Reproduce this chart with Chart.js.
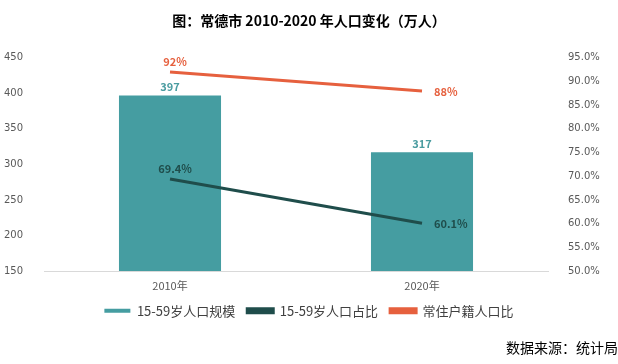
<!DOCTYPE html>
<html>
<head>
<meta charset="utf-8">
<script src="https://cdn.jsdelivr.net/npm/chart.js@4/dist/chart.umd.min.js"></script>
<style>
  html, body { margin: 0; padding: 0; background: #fff; }
  #wrap { width: 618px; height: 364px; }
</style>
</head>
<body>
<div id="wrap"><canvas id="chart" width="618" height="364"></canvas></div>
<script>
const years = ["2010年", "2020年"];
const workingPop = [397, 317];
const workingShare = [69.4, 60.1];
const registeredShare = [92, 88];

const leftTicks = [150, 200, 250, 300, 350, 400, 450];
const rightTicks = [50, 55, 60, 65, 70, 75, 80, 85, 90, 95];

const cjk = "'Noto Sans CJK SC', 'Noto Sans', sans-serif";

// value labels drawn next to each point/bar
const valueLabels = {
  id: "valueLabels",
  afterDatasetsDraw(chart) {
    const ctx = chart.ctx;
    ctx.save();
    ctx.font = "bold 11px " + cjk;
    ctx.textBaseline = "middle";
    chart.data.datasets.forEach((ds, i) => {
      const meta = chart.getDatasetMeta(i);
      meta.data.forEach((el, j) => {
        ctx.fillStyle = ds.labelColor;
        let text;
        if (ds.type === "bar") text = String(ds.data[j]);
        else if (i === 2) text = ds.data[j] + "%";
        else text = ds.data[j].toFixed(1) + "%";
        if (ds.type === "bar") {
          ctx.textAlign = "center";
          ctx.fillText(text, el.x, el.y - 9);
        } else if (j === 0) {
          ctx.textAlign = "center";
          ctx.fillText(text, el.x + 5, el.y - 10);
        } else {
          ctx.textAlign = "left";
          ctx.fillText(text, el.x + 12, el.y + 1);
        }
      });
    });
    ctx.restore();
  }
};

new Chart(document.getElementById("chart"), {
  type: "bar",
  data: {
    labels: years,
    datasets: [
      {
        type: "bar",
        label: "15-59岁人口规模",
        data: workingPop,
        backgroundColor: "#459DA1",
        labelColor: "#4A9CA0",
        yAxisID: "y",
        barPercentage: 0.81,
        categoryPercentage: 0.5,
        order: 2
      },
      {
        type: "line",
        label: "15-59岁人口占比",
        data: workingShare,
        borderColor: "#1F4D4B",
        backgroundColor: "#1F4D4B",
        labelColor: "#1F4D4B",
        borderWidth: 3,
        pointRadius: 0,
        tension: 0,
        yAxisID: "y1",
        order: 1
      },
      {
        type: "line",
        label: "常住户籍人口比",
        data: registeredShare,
        borderColor: "#E6603E",
        backgroundColor: "#E6603E",
        labelColor: "#E6603E",
        borderWidth: 3,
        pointRadius: 0,
        tension: 0,
        yAxisID: "y1",
        order: 1
      }
    ]
  },
  options: {
    responsive: false,
    animation: false,
    layout: { padding: { top: 0, left: 0, right: 0, bottom: 8 } },
    plugins: {
      title: {
        display: true,
        text: "图：常德市 2010-2020 年人口变化（万人）",
        color: "#000",
        font: { family: cjk, size: 14, weight: "bold" },
        padding: { top: 12, bottom: 29 }
      },
      legend: {
        position: "bottom",
        labels: {
          color: "#404040",
          font: { family: cjk, size: 13 },
          boxWidth: 26,
          boxHeight: 4,
          padding: 12,
          sort: (a, b) => a.datasetIndex - b.datasetIndex
        }
      },
      subtitle: {
        display: true,
        position: "bottom",
        align: "end",
        text: "数据来源：统计局",
        color: "#000",
        font: { family: cjk, size: 14 },
        padding: { top: 12, bottom: 0 }
      },
      tooltip: { enabled: false }
    },
    scales: {
      x: {
        grid: { display: false },
        border: { color: "#D9D9D9" },
        ticks: { color: "#595959", font: { family: cjk, size: 11 }, padding: 0 }
      },
      y: {
        position: "left",
        min: 150,
        max: 450,
        afterBuildTicks: axis => { axis.ticks = leftTicks.map(v => ({ value: v })); },
        afterFit: axis => { axis.width = 44; },
        grid: { display: false },
        border: { display: false },
        ticks: { color: "#595959", font: { family: "'DejaVu Sans', sans-serif", size: 10 }, padding: 13 }
      },
      y1: {
        position: "right",
        min: 50,
        max: 95,
        afterBuildTicks: axis => { axis.ticks = rightTicks.map(v => ({ value: v })); },
        afterFit: axis => { axis.width = 70; },
        grid: { display: false },
        border: { display: false },
        ticks: {
          color: "#595959",
          font: { family: "'DejaVu Sans', sans-serif", size: 10 },
          padding: 12,
          callback: v => v.toFixed(1) + "%"
        }
      }
    }
  },
  plugins: [valueLabels]
});
</script>
</body>
</html>
